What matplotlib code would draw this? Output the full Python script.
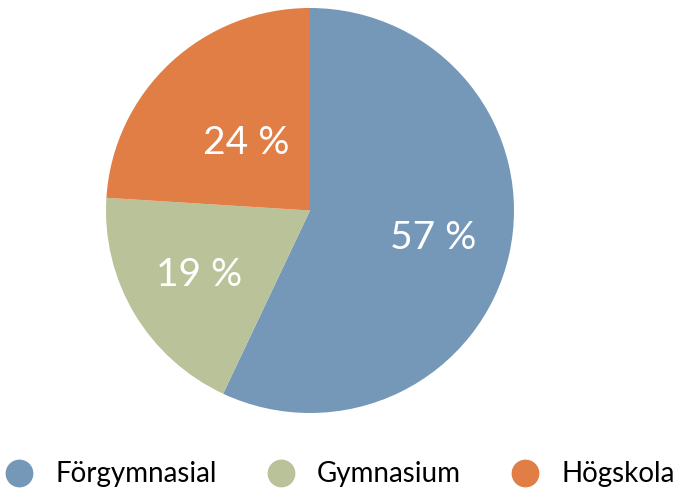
import matplotlib
matplotlib.use("Agg")
import numpy as np
import matplotlib.pyplot as plt
from matplotlib.lines import Line2D

labels = ["Förgymnasial", "Gymnasium", "Högskola"]
values = [57, 19, 24]
colors = ["#7598b9", "#b9c298", "#e07e45"]
label_dist = [0.62, 0.63, 0.46]

plt.rcParams['font.family'] = ['Lato', 'DejaVu Sans']

fig = plt.figure(figsize=(6.8, 4.94), dpi=100)
ax = fig.add_axes([106/680, 81/494, 408/680, 405/494])

wedges, _ = ax.pie(values, colors=colors, startangle=90, counterclock=False,
                   radius=1.0, wedgeprops=dict(linewidth=0))
for w, v, d in zip(wedges, values, label_dist):
    mid = np.deg2rad((w.theta1 + w.theta2) / 2)
    ax.text(d*np.cos(mid), d*np.sin(mid), "%d %%" % v, color="white",
            fontsize=28, ha="center", va="center")
ax.set_xlim(-1, 1)
ax.set_ylim(-1, 1)
ax.set_aspect("auto")
ax.axis("off")

handles = [Line2D([], [], marker="o", linestyle="", markersize=19,
                  markerfacecolor=c, markeredgecolor=c) for c in colors]
fig.legend(handles, labels, loc="center", bbox_to_anchor=(0.5, 0.04), ncol=3,
           frameon=False, fontsize=20, handletextpad=0.8, columnspacing=1.8,
           handlelength=1.0)

fig.savefig("out.png", dpi=100)
